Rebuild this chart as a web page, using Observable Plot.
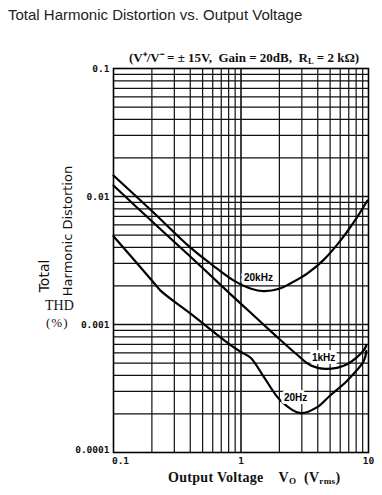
<!DOCTYPE html>
<html>
<head>
<meta charset="utf-8">
<script src="https://cdn.jsdelivr.net/npm/d3@7"></script>
<script src="https://cdn.jsdelivr.net/npm/@observablehq/plot@0.6"></script>
<style>
  html, body { margin: 0; padding: 0; background: #fff; width: 382px; height: 495px; overflow: hidden; }
  #title { position: absolute; left: 8px; top: 6px; font: 15px "Liberation Sans", Arial, sans-serif; color: #222; line-height: 18px; white-space: nowrap; }
  #chart { position: absolute; left: 0; top: 32px; }
  #chart svg { display: block; }
  .ov { position: absolute; white-space: nowrap; color: #111; }
  #subtitle { left: 129px; top: 48px; font: bold 13px "Liberation Serif", serif; }
  #xlabel { left: 168px; top: 470px; font: bold 14px "Liberation Serif", serif; letter-spacing: 0.3px; }
  #total { left: 44px; top: 276px; font: 14px "DejaVu Sans", sans-serif; transform: translate(-50%,-50%) rotate(-90deg); }
  #harm { left: 67px; top: 231px; font: 13px "DejaVu Sans", sans-serif; transform: translate(-50%,-50%) rotate(-90deg); }
  #thd { left: 45px; top: 298px; font: 14px "Liberation Serif", serif; }
  #pct { left: 46px; top: 315px; font: 13px "Liberation Serif", serif; letter-spacing: 1px; }
  sub { font-size: 0.65em; vertical-align: -0.25em; }
</style>
</head>
<body>
<div id="title">Total Harmonic Distortion vs. Output Voltage</div>
<div id="chart"></div>
<div class="ov" id="subtitle">(V⁺/V⁻ = ± 15V,&nbsp; Gain = 20dB,&nbsp; R<sub>L</sub> = 2 kΩ)</div>
<div class="ov" id="xlabel">Output Voltage&nbsp;&nbsp;&nbsp; V<sub>O</sub>&nbsp; (V<sub>rms</sub>)</div>
<div class="ov" id="total">Total</div>
<div class="ov" id="harm">Harmonic Distortion</div>
<div class="ov" id="thd">THD</div>
<div class="ov" id="pct">(%)</div>
<script>
// ---- data ----
const vout20k = [0.1, 0.2, 0.4, 0.6, 0.88, 1.2, 1.5, 2.0, 2.45, 3.3, 4.45, 6.0, 8.15, 9.8];
const thd20k  = [0.0146, 0.0077, 0.0040, 0.0029, 0.0022, 0.0019, 0.00182, 0.0019, 0.0021, 0.0025, 0.0032, 0.0045, 0.0069, 0.0093];

const vout1k = [0.1, 0.2, 0.4, 0.83, 1.0, 1.5, 2.0, 2.76, 3.5, 4.6, 6.8, 9.2, 9.6];
const thd1k  = [0.0122, 0.0064, 0.0034, 0.00172, 0.00145, 0.00100, 0.00077, 0.00058, 0.00048, 0.00045, 0.00049, 0.00063, 0.00069];

const vout20 = [0.1, 0.2, 0.234, 0.4, 0.83, 1.0, 1.19, 1.51, 2.04, 2.93, 3.96, 5.0, 6.8, 9.2, 9.6];
const thd20  = [0.0049, 0.00221, 0.00184, 0.00122, 0.00069, 0.00061, 0.00055, 0.00039, 0.000255, 0.000203, 0.000226, 0.000279, 0.000364, 0.00052, 0.00062];

const curveLabels = ["20kHz", "1kHz", "20Hz"];
const labelVout   = [1.37, 4.45, 2.68];
const labelThd    = [0.00233, 0.000552, 0.000269];

const xGridMinor = [0.2, 0.3, 0.4, 0.5, 0.6, 0.7, 0.8, 0.9, 2, 3, 4, 5, 6, 7, 8, 9];
const xGridMajor = [1];
const yGridMinor = [0.0002, 0.0003, 0.0004, 0.0005, 0.0006, 0.0007, 0.0008, 0.0009,
                    0.002, 0.003, 0.004, 0.005, 0.006, 0.007, 0.008, 0.009,
                    0.02, 0.03, 0.04, 0.05, 0.06, 0.07, 0.08, 0.09];
const yGridMajor = [0.001, 0.01];

const xTicks = [0.5, 1, 5, 10];
const xTickFirst = [0.1];
const xTickText = new Map([[0.1, "0.1"], [0.5, "0.5"], [1, "1"], [5, "5"], [10, "10"]]);
const yTicks = [0.1, 0.01, 0.001];
const yTickLast = [0.0001];
const yTickText = new Map([[0.1, "0.1"], [0.01, "0.01"], [0.001, "0.001"], [0.0001, "0.0001"]]);

// ---- build tables ----
const toRows = (xs, ys, name) => xs.map((x, i) => ({x, y: ys[i], name}));
const rows = [
  ...toRows(vout20k, thd20k, "20kHz"),
  ...toRows(vout1k, thd1k, "1kHz"),
  ...toRows(vout20, thd20, "20Hz")
];
const labels = curveLabels.map((t, i) => ({t, x: labelVout[i], y: labelThd[i]}));

const tickFont = {fontFamily: "DejaVu Sans Mono, monospace", fontWeight: "bold", fontSize: 9.5};

const chart = Plot.plot({
  width: 382,
  height: 463,
  marginTop: 36,
  marginBottom: 43,
  marginLeft: 113,
  marginRight: 14,
  style: {background: "white", color: "#111", overflow: "visible"},
  x: {type: "log", domain: [0.1, 10]},
  y: {type: "log", domain: [0.0001, 0.1]},
  marks: [
    Plot.ruleX(xGridMinor, {stroke: "#111", strokeWidth: 1.2}),
    Plot.ruleX(xGridMajor, {stroke: "#111", strokeWidth: 1.6}),
    Plot.ruleY(yGridMinor, {stroke: "#111", strokeWidth: 1.2}),
    Plot.ruleY(yGridMajor, {stroke: "#111", strokeWidth: 1.6}),
    Plot.line(rows, {x: "x", y: "y", z: "name", stroke: "#000", strokeWidth: 2.2, curve: "catmull-rom"}),
    Plot.text(labels, {x: "x", y: "y", text: "t", fill: "#000", stroke: "white", strokeWidth: 6,
      fontFamily: "Liberation Sans, Arial, sans-serif", fontWeight: "bold", fontSize: 10}),
    Plot.frame({stroke: "#000", strokeWidth: 1.6}),
    Plot.axisX(xTicks, {tickSize: 0, tickPadding: 5, tickFormat: d => xTickText.get(d), label: null, ...tickFont}),
    Plot.axisX(xTickFirst, {tickSize: 0, tickPadding: 5, tickFormat: d => xTickText.get(d), label: null, dx: 7, ...tickFont}),
    Plot.axisY(yTicks, {tickSize: 0, tickPadding: 4, tickFormat: d => yTickText.get(d), label: null, ...tickFont}),
    Plot.axisY(yTickLast, {tickSize: 0, tickPadding: 4, tickFormat: d => yTickText.get(d), label: null, dy: -3, ...tickFont})
  ]
});
document.getElementById("chart").appendChild(chart);
</script>
</body>
</html>
